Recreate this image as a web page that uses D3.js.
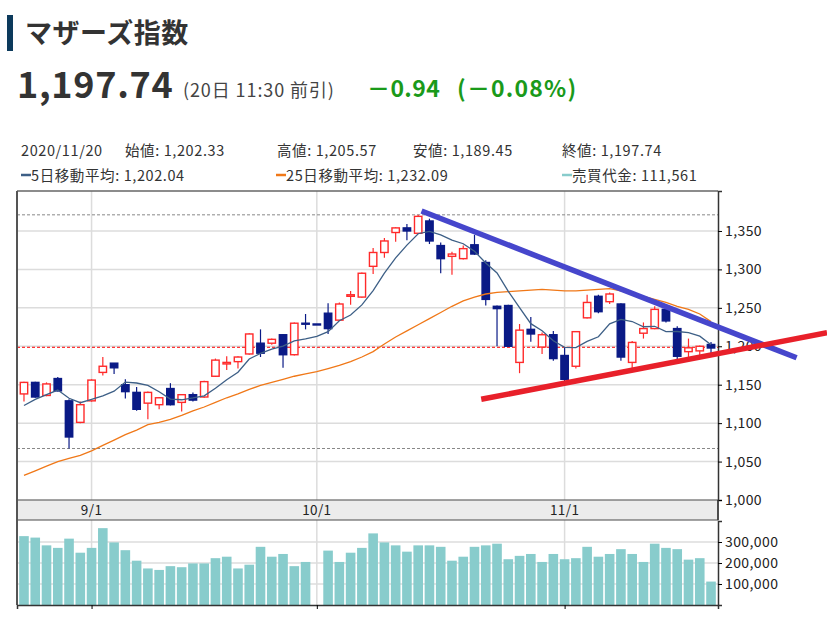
<!DOCTYPE html>
<html>
<head>
<meta charset="utf-8">
<script src="https://cdn.jsdelivr.net/npm/d3@7"></script>
<style>
  body { margin: 0; background: #fff; }
  text { font-family: "Noto Sans CJK JP", "Noto Sans", sans-serif; }
</style>
</head>
<body>
<div id="chart"></div>
<script>
const dates = ["8/24","8/25","8/26","8/27","8/28","8/31","9/1","9/2","9/3","9/4","9/7","9/8","9/9","9/10","9/11","9/14","9/15","9/16","9/17","9/18","9/23","9/24","9/25","9/28","9/29","9/30","10/1","10/2","10/5","10/6","10/7","10/8","10/9","10/12","10/13","10/14","10/15","10/16","10/19","10/20","10/21","10/22","10/23","10/26","10/27","10/28","10/29","10/30","11/2","11/4","11/5","11/6","11/9","11/10","11/11","11/12","11/13","11/16","11/17","11/18","11/19","11/20"];

const opens  = [1138,1153,1136,1158,1129,1101,1129,1166,1178,1150,1140,1126,1124,1145,1127,1137,1134,1161,1177,1180,1190,1204,1204,1215,1189,1230,1229,1243,1234,1265,1264,1304,1322,1348,1354,1347,1363,1331,1317,1314,1332,1309,1252,1253,1179,1222,1199,1215,1188,1174,1237,1265,1258,1255,1179,1217,1223,1248,1223,1193,1194,1202.33];
const highs  = [1154,1154,1153,1160,1131,1128,1157,1186,1178,1157,1147,1141,1134,1152,1138,1140,1155,1184,1187,1187,1217,1222,1210,1216,1231,1242,1229,1256,1257,1272,1296,1328,1341,1355,1359,1371,1366,1335,1323,1331,1345,1312,1253,1254,1229,1238,1218,1220,1198,1220,1267,1267,1270,1256,1207,1231,1252,1249,1226,1210,1201,1205.57];
const lows   = [1128,1133,1135,1141,1067,1100,1128,1162,1164,1132,1116,1105,1118,1123,1115,1128,1133,1160,1169,1171,1189,1186,1202,1172,1188,1222,1229,1216,1233,1254,1263,1294,1315,1336,1338,1346,1333,1295,1293,1313,1319,1253,1200,1199,1165,1206,1190,1181,1154,1171,1236,1243,1255,1181,1171,1210,1222,1231,1183,1186,1187,1189.45];
const closes = [1153,1134,1151,1142,1082,1124,1156,1174,1172,1141,1118,1140,1133,1124,1137,1130,1154,1182,1179,1186,1216,1191,1209,1189,1230,1229,1229,1223,1255,1267,1295,1322,1337,1354,1350,1369,1337,1314,1320,1327,1320,1261,1249,1200,1221,1216,1215,1184,1157,1219,1257,1245,1268,1186,1205,1223,1248,1233,1187,1198,1200,1197.74];

const ma5  = [1123,1131,1137,1143,1132.4,1126.6,1131,1135.6,1141.6,1153.4,1152.2,1149,1140.8,1131.2,1130.4,1132.8,1135.6,1145.4,1156.4,1166.2,1183.4,1190.8,1196.2,1200.2,1207,1209.6,1213,1219,1233.2,1240.6,1253.8,1272.4,1295.2,1315,1331.6,1346.4,1349.4,1344.8,1338,1333.4,1323.6,1308.4,1295.4,1271.4,1250.2,1229.4,1220.2,1207.2,1198.6,1198.2,1206.4,1212.4,1229.2,1235,1232.2,1225.4,1226,1219,1219.2,1217.8,1213.2,1202.04];
const ma25 = [1032,1038,1044,1050,1054,1058,1064,1071,1078,1085,1091,1098,1101,1105,1110,1116,1121,1127,1133,1138,1144,1149,1153,1157,1161,1164,1167,1171,1175,1180,1186,1193,1203,1212,1220,1228,1236,1244,1252,1259,1264,1268,1270,1271,1272,1273,1274,1273,1272,1272,1273,1274,1275,1272,1268,1265,1261,1257,1252,1248,1242,1232.09];

const volumes = [328000,321000,284000,272000,316000,249000,272000,366000,298000,261000,211000,174000,167000,185000,180000,198000,198000,223000,230000,174000,192000,277000,230000,243000,185000,205000,0,259000,205000,249000,272000,341000,298000,284000,254000,284000,284000,277000,211000,230000,277000,284000,292000,218000,234000,243000,205000,243000,218000,223000,277000,230000,243000,266000,243000,205000,292000,272000,266000,216000,223000,111561];

const priceTicks = [1000,1050,1100,1150,1200,1250,1300,1350];
const volTicks = [100000,200000,300000];
const monthTickDates = ["9/1","10/1","11/2"];
const monthTickLabels = ["9/1","10/1","11/1"];
const prevClose = 1198.68;

// hand-drawn trend lines, [index, price]
const trendUpper = [[35.3, 1376], [68.6, 1185]];
const trendLower = [[40.6, 1131], [71.3, 1217.7]];

const width = 827, height = 621;
const L = 17, R = 718, T = 191, PB = 500, DB = 520, VB = 605;
const NAVY = "#0a1a86", RED = "#ff2a2a";

const svg = d3.select("#chart").append("svg")
  .attr("width", width)
  .attr("height", height);

// ---- header
svg.append("rect").attr("x", 7).attr("y", 15).attr("width", 6).attr("height", 36).attr("fill", "#0c3a5c");
svg.append("text").attr("x", 25).attr("y", 43).attr("font-size", 27).attr("font-weight", "bold")
  .attr("letter-spacing", 0.5).attr("fill", "#333").text("マザーズ指数");
svg.append("text").attr("x", 17).attr("y", 98).attr("font-size", 36).attr("font-weight", "bold")
  .attr("letter-spacing", 0.7).attr("fill", "#333").text("1,197.74");
svg.append("text").attr("x", 183).attr("y", 97).attr("font-size", 18)
  .attr("letter-spacing", 0.9).attr("fill", "#444").text("(20日 11:30 前引)");
svg.append("text").attr("x", 367).attr("y", 97).attr("font-size", 23).attr("font-weight", "bold")
  .attr("letter-spacing", 0.4).attr("fill", "#1a9a1a").text("－0.94");
svg.append("text").attr("x", 457).attr("y", 97).attr("font-size", 23).attr("font-weight", "bold")
  .attr("letter-spacing", 1.2).attr("fill", "#1a9a1a").text("(－0.08%)");

// ---- info rows
const info = [
  [21, "2020/11/20"], [125, "始値: 1,202.33"], [277, "高値: 1,205.57"],
  [413, "安値: 1,189.45"], [562, "終値: 1,197.74"]
];
svg.selectAll(".info").data(info).enter().append("text")
  .attr("x", d => d[0]).attr("y", 156).attr("font-size", 14.5).attr("letter-spacing", 0.6)
  .attr("fill", "#333").text(d => d[1]);

const legend = [
  [21, "#3d5f86", "5日移動平均: 1,202.04"],
  [276, "#f07818", "25日移動平均: 1,232.09"],
  [562, "#88cccc", "売買代金: 111,561"]
];
const lg = svg.selectAll(".lg").data(legend).enter().append("g");
lg.append("line").attr("x1", d => d[0]).attr("x2", d => d[0] + 10)
  .attr("y1", 175).attr("y2", 175).attr("stroke", d => d[1]).attr("stroke-width", 2.5);
lg.append("text").attr("x", d => d[0] + 10).attr("y", 181).attr("font-size", 14.5).attr("letter-spacing", 0.6)
  .attr("fill", "#333").text(d => d[2]);

// ---- scales
const x = d3.scaleLinear().domain([-0.62, 61.62]).range([L, R]);
const y = d3.scaleLinear().domain([1000, 1402]).range([PB, T]);
const yv = d3.scaleLinear().domain([0, 400000]).range([VB, DB + 1]);

const monthIdx = monthTickDates.map(d => dates.indexOf(d));

// ---- grid
const grid = svg.append("g");
grid.selectAll(".hg").data(priceTicks.slice(1)).enter().append("line")
  .attr("x1", L).attr("x2", R).attr("y1", d => y(d)).attr("y2", d => y(d))
  .attr("stroke", "#dcdcdc").attr("stroke-width", 1.5);
grid.selectAll(".vg").data(volTicks).enter().append("line")
  .attr("x1", L).attr("x2", R).attr("y1", d => yv(d)).attr("y2", d => yv(d))
  .attr("stroke", "#dcdcdc").attr("stroke-width", 1.5);
grid.selectAll(".mg").data(monthIdx).enter().append("line")
  .attr("x1", d => x(d)).attr("x2", d => x(d)).attr("y1", T).attr("y2", PB)
  .attr("stroke", "#dcdcdc").attr("stroke-width", 1.5);
grid.selectAll(".mg2").data(monthIdx).enter().append("line")
  .attr("x1", d => x(d)).attr("x2", d => x(d)).attr("y1", DB).attr("y2", VB)
  .attr("stroke", "#dcdcdc").attr("stroke-width", 1.5);

// period high / low
const hiLo = [d3.max(highs), d3.min(lows)];
grid.selectAll(".hl").data(hiLo).enter().append("line")
  .attr("x1", L).attr("x2", R).attr("y1", d => y(d)).attr("y2", d => y(d))
  .attr("stroke", "#888").attr("stroke-dasharray", "3,2");
grid.append("line").attr("x1", L).attr("x2", R).attr("y1", y(prevClose)).attr("y2", y(prevClose))
  .attr("stroke", "#ff0000").attr("stroke-dasharray", "3,2");

// ---- volume
svg.append("g").selectAll("rect").data(volumes).enter().append("rect")
  .attr("x", (d, i) => x(i) - 4.8).attr("width", 9.6)
  .attr("y", d => yv(d)).attr("height", d => VB - yv(d))
  .attr("fill", "#88cccc");

// ---- candles
const candles = svg.append("g").selectAll("g").data(dates).enter().append("g");
const col = i => closes[i] > opens[i] ? RED : NAVY;
candles.append("line")
  .attr("x1", (d, i) => x(i)).attr("x2", (d, i) => x(i))
  .attr("y1", (d, i) => y(highs[i])).attr("y2", (d, i) => y(lows[i]))
  .attr("stroke", (d, i) => col(i)).attr("stroke-width", 1.2);
candles.append("rect")
  .attr("x", (d, i) => x(i) - 3.7).attr("width", 7.4)
  .attr("y", (d, i) => y(Math.max(opens[i], closes[i])))
  .attr("height", (d, i) => Math.max(1, y(Math.min(opens[i], closes[i])) - y(Math.max(opens[i], closes[i]))))
  .attr("fill", (d, i) => closes[i] > opens[i] ? "#fff" : NAVY)
  .attr("stroke", (d, i) => col(i)).attr("stroke-width", 1.4);

// ---- moving averages
const line = d3.line().x((d, i) => x(i)).y(d => y(d));
svg.append("path").datum(ma25).attr("d", line)
  .attr("fill", "none").attr("stroke", "#f07818").attr("stroke-width", 1.3);
svg.append("path").datum(ma5).attr("d", line)
  .attr("fill", "none").attr("stroke", "#3d5f86").attr("stroke-width", 1.3);

// ---- frame
svg.append("rect").attr("x", L).attr("y", PB).attr("width", R - L).attr("height", DB - PB)
  .attr("fill", "#ececec").attr("stroke", "#666").attr("stroke-width", 1.2);
svg.append("line").attr("x1", L).attr("x2", R).attr("y1", T).attr("y2", T).attr("stroke", "#666").attr("stroke-width", 1.5);
svg.append("line").attr("x1", L).attr("x2", L).attr("y1", T).attr("y2", VB).attr("stroke", "#555").attr("stroke-width", 2);

svg.selectAll(".ml").data(monthIdx).enter().append("text")
  .attr("x", (d) => x(d)).attr("y", 515).attr("text-anchor", "middle")
  .attr("font-size", 13.5).attr("letter-spacing", 0.4).attr("fill", "#222")
  .text((d, i) => monthTickLabels[i]);

const xAxis = d3.axisBottom(x).tickValues(monthIdx).tickSize(4).tickFormat("");
svg.append("g").attr("transform", `translate(0,${VB})`).call(xAxis)
  .call(g => g.select(".domain").attr("stroke", "#333").attr("stroke-width", 1.5));

const styleAxis = g => g
  .call(g => g.select(".domain").attr("stroke", "#333").attr("stroke-width", 1.5))
  .call(g => g.selectAll("text").attr("font-size", 14).attr("letter-spacing", 0.4).attr("fill", "#222")
    .style("font-family", '"Noto Sans CJK JP", sans-serif'));

const yAxis = d3.axisRight(y).tickValues(priceTicks).tickFormat(d3.format(",")).tickSize(4).tickPadding(3);
svg.append("g").attr("transform", `translate(${R},0)`).call(yAxis).call(styleAxis);

const vAxis = d3.axisRight(yv).tickValues(volTicks).tickFormat(d3.format(",")).tickSize(4).tickPadding(3);
svg.append("g").attr("transform", `translate(${R},0)`).call(vAxis).call(styleAxis);
svg.append("line").attr("x1", R).attr("x2", R).attr("y1", PB).attr("y2", DB).attr("stroke", "#333").attr("stroke-width", 1.5);

// ---- trend lines
const tline = d3.line().x(d => x(d[0])).y(d => y(d[1]));
svg.append("path").datum(trendUpper).attr("d", tline)
  .attr("stroke", "#4646cc").attr("stroke-width", 5.5).attr("fill", "none");
svg.append("path").datum(trendLower).attr("d", tline)
  .attr("stroke", "#e8202a").attr("stroke-width", 5.5).attr("fill", "none");
</script>
</body>
</html>
